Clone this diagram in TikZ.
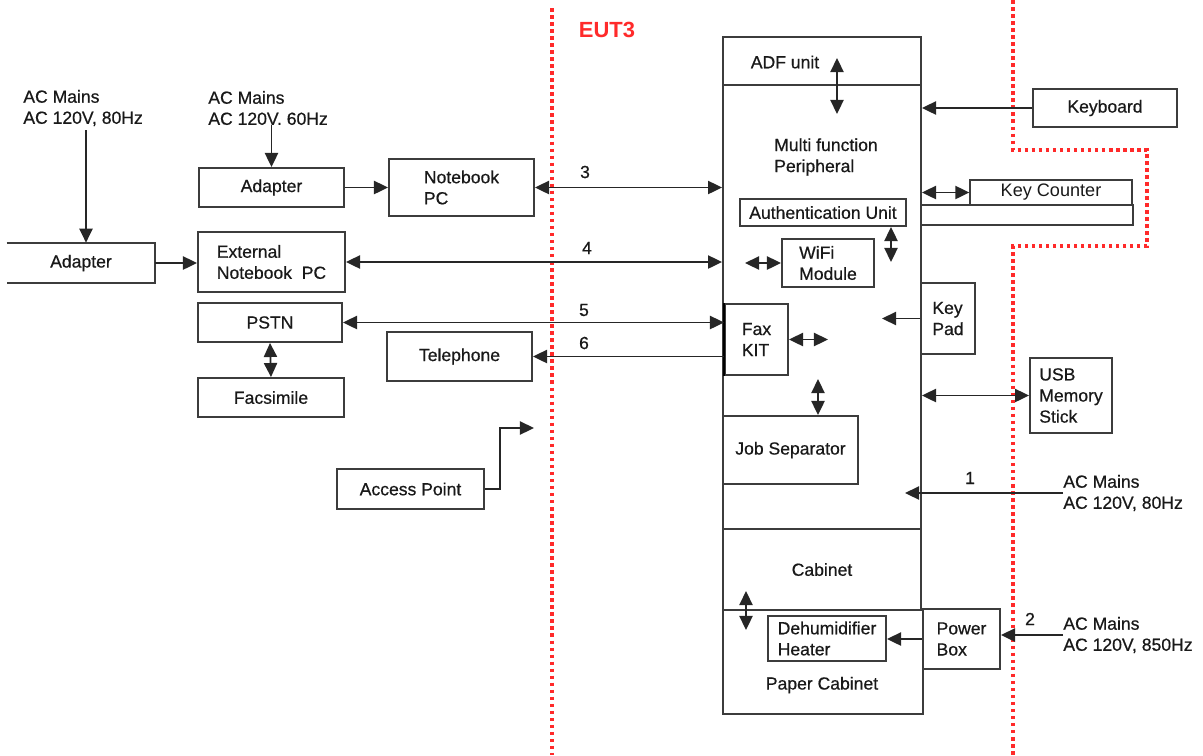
\documentclass[tikz,border=0pt]{standalone}
\usepackage{fontspec}
\setmainfont{Liberation Sans}
\newfontfamily\heavyfont[FakeBold=0.6]{Liberation Sans}
\usetikzlibrary{arrows.meta}
\definecolor{boxgray}{HTML}{3C3C3C}
\definecolor{eutred}{HTML}{FF2A2A}

\begin{document}
\begin{tikzpicture}[line join=miter,>={Triangle[length=8pt,width=7.5pt]},x=0.02cm,y=-0.02cm,
  every node/.style={font=\heavyfont\fontsize{10}{12}\selectfont,text=black!90},
  box/.style={draw=boxgray,line width=1.1pt,inner sep=0pt,align=left},
  thinbox/.style={draw=boxgray,line width=0.8pt,inner sep=0pt},
  wire/.style={draw=black!85,line width=1pt},
  mains/.style={anchor=west,inner sep=0pt,align=left},
  eutline/.style={draw=eutred,line width=1.8pt,dash pattern=on 2pt off 2pt}]
\useasboundingbox (0,0) rectangle (1203,755);
% EUT boundaries
\draw [eutline] (552,8) -- (552,755);
\draw [eutline] (1013,0) -- (1013,150) -- (1147,150) -- (1147,246) -- (1013,246) -- (1013,755);
\node [font=\fontsize{12.5}{14}\selectfont\bfseries,text=eutred] (eut) at (607,30) {EUT3};
% copier column
\node [box,minimum width=3.96cm,minimum height=0.96cm] (adf) at (822,61) {};
\node (adftxt) at (785,62) {ADF unit};
\node [box,minimum width=3.96cm,minimum height=8.88cm] (mfp) at (822,307) {};
\node [align=left] (mfptxt) at (826,157) {Multi function\\Peripheral};
\node [box,minimum width=3.96cm,minimum height=1.62cm] (cab) at (822,569.5) {Cabinet};
\node [box,minimum width=4.0cm,minimum height=2.08cm] (pcab) at (823,662) {};
\node (pcabtxt) at (822,685) {Paper Cabinet};
\node [box,minimum width=2.36cm,minimum height=0.9cm] (dehum) at (827,638.5) {Dehumidifier\\Heater};
\node [box,minimum width=1.54cm,minimum height=1.2cm] (pbox) at (961.5,639) {Power\\Box};
\node [box,minimum width=3.32cm,minimum height=0.54cm] (auth) at (823,212.5) {Authentication Unit};
\node [box,minimum width=1.84cm,minimum height=0.96cm] (wifi) at (828,263) {WiFi\\Module};
\node [box,minimum width=1.26cm,minimum height=1.42cm] (fax) at (756.5,339.5) {Fax\\KIT};
\draw [line width=1.6pt] (fax.north west) -- (fax.south west);
\node [box,minimum width=2.7cm,minimum height=1.36cm] (jobsep) at (790.5,450) {Job Separator};
% right side
\node [box,minimum width=2.88cm,minimum height=0.76cm] (kbd) at (1105,108) {Keyboard};
\node [thinbox,minimum width=3.24cm,minimum height=0.5cm,font=\fontsize{10.3}{12}\selectfont] (kcnt) at (1051,192.5) {Key Counter};
\node [thinbox,minimum width=4.24cm,minimum height=0.4cm] (kstrip) at (1027,215) {};
\node [box,minimum width=1.08cm,minimum height=1.42cm] (kpad) at (948,318.5) {Key\\Pad};
\node [box,minimum width=1.64cm,minimum height=1.5cm] (usb) at (1071,395.5) {USB\\Memory\\Stick};
\node [mains] (acone) at (1063,493) {AC Mains\\AC 120V, 80Hz};
\node [mains] (actwo) at (1063,635) {AC Mains\\AC 120V, 850Hz};
\node (none) at (970,478) {1};
\node (ntwo) at (1030,619) {2};
% left side
\node [mains] (acthree) at (23,108) {AC Mains\\AC 120V, 80Hz};
\node [mains] (acfour) at (208,108) {AC Mains\\AC 120V. 60Hz};
\node [inner sep=0pt,minimum width=2.96cm,minimum height=0.8cm] (adpone) at (81,263) {Adapter};
\draw [boxgray,line width=1.1pt] (adpone.north west) -- (adpone.north east) -- (adpone.south east) -- (adpone.south west);
\node [box,align=center,minimum width=2.9cm,minimum height=0.78cm] (adptwo) at (271.5,187.5) {Adapter};
\node [box,minimum width=2.9cm,minimum height=1.14cm] (nbpc) at (461.5,187.5) {Notebook\\PC};
\node [box,minimum width=2.94cm,minimum height=1.2cm] (extnb) at (271.5,262) {External\\Notebook~ PC};
\node [box,align=center,minimum width=2.88cm,minimum height=0.78cm] (pstn) at (270,322.5) {PSTN};
\node [box,align=center,minimum width=2.92cm,minimum height=0.78cm] (facs) at (271,397.5) {Facsimile};
\node [box,align=center,minimum width=2.9cm,minimum height=0.98cm] (tel) at (459.5,356.5) {Telephone};
\node [box,align=center,minimum width=2.94cm,minimum height=0.8cm] (ap) at (410.5,489) {Access Point};
\node (nthree) at (585,172) {3};
\node (nfour) at (587,248) {4};
\node (nfive) at (584,310) {5};
\node (nsix) at (584,343) {6};
% free ends
\coordinate (adfA) at (837,58);
\coordinate (adfB) at (837,114);
\coordinate (authB) at (891,262);
\coordinate (wifiA) at (745,263);
\coordinate (kpadB) at (882,318.5);
\coordinate (faxB) at (828,339.5);
\coordinate (faxC) at (818,379);
\coordinate (aconeB) at (905,493);
\coordinate (cabA) at (746,591);
\coordinate (cabB) at (746,630);
\coordinate (acthreeB) at (86,130);
\coordinate (apC) at (500,428);
\coordinate (apB) at (534,428);
% connectors
\draw [wire,<->] (adfA) -- (adfB);
\draw [wire,->] (kbd.west) -- (kbd.west -| mfp.east);
\draw [wire,<->] (kcnt.west -| mfp.east) -- (kcnt.west);
\draw [wire,<->] (authB |- auth.south) -- (authB);
\draw [wire,<->] (wifiA) -- (wifi.west);
\draw [wire,->] (kpad.west) -- (kpadB);
\draw [wire,<->] (fax.east) -- (faxB);
\draw [wire,<->] (faxC) -- (faxC |- jobsep.north);
\draw [wire,<->] (usb.west -| mfp.east) -- (usb.west);
\draw [wire,->] (acone.west) -- (aconeB);
\draw [wire,->] (actwo.west) -- (actwo.west -| pbox.east);
\draw [wire,->] (pbox.west) -- (pbox.west -| dehum.east);
\draw [wire,<->] (cabA) -- (cabB);
\draw [wire,->] (acthreeB) -- (acthreeB |- adpone.north);
\draw [wire,->] (adptwo.north |- acfour.south) -- (adptwo.north);
\draw [wire,->] (adptwo.east) -- (nbpc.west);
\draw [wire,->] (adpone.east) -- (adpone.east -| extnb.west);
\draw [wire,<->] (nbpc.east) -- (nbpc.east -| mfp.west);
\draw [wire,<->] (extnb.east) -- (extnb.east -| mfp.west);
\draw [wire,<->] (pstn.east) -- (pstn.east -| fax.west);
\draw [wire,->] (tel.east -| fax.west) -- (tel.east);
\draw [wire,<->] (pstn.south) -- (facs.north);
\draw [wire,->] (ap.east) -| (apC) -- (apB);
\end{tikzpicture}
\end{document}
